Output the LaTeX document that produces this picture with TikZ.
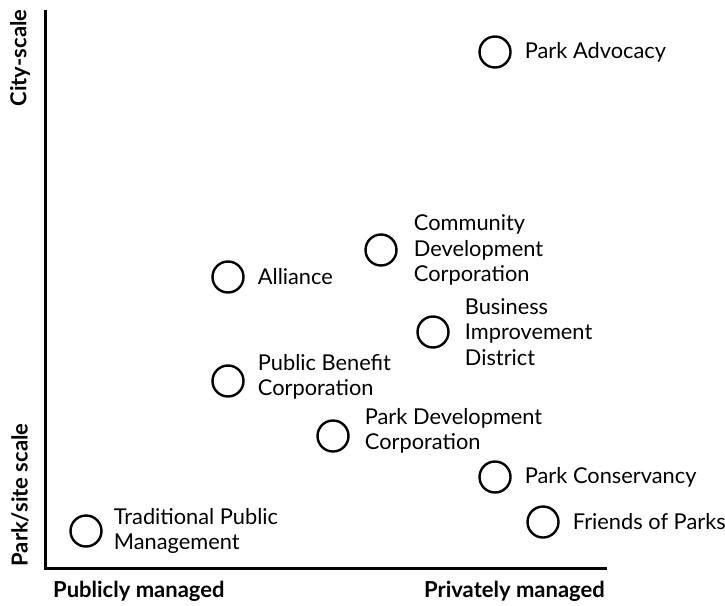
\documentclass[tikz,border=0pt]{standalone}
\usepackage{fontspec}
\setmainfont{Lato}
\usetikzlibrary{positioning}

\begin{document}
\begin{tikzpicture}[x=1pt, y=-1pt, line width=2.4pt, node distance=12pt,
	org/.style={circle,draw,minimum size=31pt,inner sep=0pt},
	lbl/.style={align=left,inner sep=0pt,font=\fontsize{21.8}{25.5}\selectfont},
	axlbl/.style={inner sep=0pt,font=\fontsize{22}{24}\selectfont\bfseries}]
	\useasboundingbox (0,0) rectangle (725,605);
	% axes
	\coordinate (top) at (45,10);
	\coordinate (origin) at (45,568);
	\coordinate (xend) at (607,568);
	\draw[line width=3pt] (top) -- (origin) -- (xend);
	\node [axlbl,rotate=90] (city) at (20,58) {City-scale};
	\node [axlbl,rotate=90] (site) at (20,495) {Park/site scale};
	\node [axlbl,anchor=west] (public) at (52,591) {Publicly managed};
	\node [axlbl,anchor=east] (private) at (606,591) {Privately managed};
	% organisations
	\node [org] (adv) at (495,52) {};
	\node [org] (cdc) at (381,250) {};
	\node [org] (all) at (228,277) {};
	\node [org] (bid) at (433,332) {};
	\node [org] (pbc) at (228,381) {};
	\node [org] (pdc) at (333,436) {};
	\node [org] (cons) at (495,477) {};
	\node [org] (fri) at (543,522) {};
	\node [org] (tpm) at (86,531) {};
	\node [lbl,right=of adv] (advl) {Park Advocacy};
	\node [lbl,right=15pt of cdc] (cdcl) {Community\\Development\\Corporation};
	\node [lbl,right=of all] (alll) {Alliance};
	\node [lbl,right=14pt of bid] (bidl) {Business\\Improvement\\District};
	\node [lbl,right=of pbc,yshift=4pt] (pbcl) {Public Benefit\\Corporation};
	\node [lbl,right=14pt of pdc,yshift=5pt] (pdcl) {Park Development\\Corporation};
	\node [lbl,right=of cons] (consl) {Park Conservancy};
	\node [lbl,right=of fri] (fril) {Friends of Parks};
	\node [lbl,right=10pt of tpm] (tpml) {Traditional Public\\Management};
\end{tikzpicture}
\end{document}
